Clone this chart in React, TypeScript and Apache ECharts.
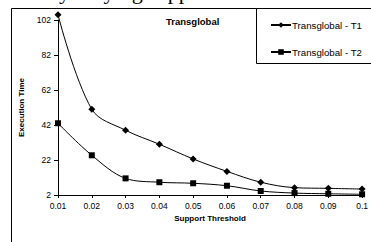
import React, { useEffect, useRef } from "react";
import * as echarts from "echarts";

const thresholds = ["0.01", "0.02", "0.03", "0.04", "0.05", "0.06", "0.07", "0.08", "0.09", "0.1"];
const t1Values = [105, 51, 39, 31, 22.6, 15.5, 9.3, 6.2, 5.8, 5.4];
const t2Values = [43, 24.7, 11.5, 9.3, 8.7, 7.3, 4.3, 3.1, 2.7, 2.4];
const seriesNames = ["Transglobal - T1", "Transglobal - T2"];
const chartTitle = "Transglobal";
const xTitle = "Support Threshold";
const yTitle = "Execution Time";
const aboveText = "by varying support";

export default function App() {
  const ref = useRef<HTMLDivElement>(null);
  useEffect(() => {
    if (!ref.current) return;
    const chart = echarts.init(ref.current, null, { renderer: "svg" });
    const font = "Liberation Sans, Arial, sans-serif";
    chart.setOption({
      animation: false,
      backgroundColor: "#ffffff",
      textStyle: { fontFamily: font, color: "#000" },
      title: {
        text: chartTitle,
        left: 166,
        top: 16,
        padding: 0,
        textStyle: { fontSize: 9.5, fontWeight: "bold", color: "#000", fontFamily: font },
      },
      legend: {
        orient: "vertical",
        left: 270,
        top: 20,
        padding: 0,
        itemGap: 17,
        itemWidth: 20,
        itemHeight: 7,
        textStyle: { fontSize: 9.7, color: "#000", fontFamily: font, padding: [0, 0, 0, -4] },
        data: seriesNames,
      },
      graphic: [
        {
          type: "rect",
          shape: { x: 11.5, y: 8.5, width: 400, height: 300 },
          style: { fill: "none", stroke: "#000", lineWidth: 1 },
          z: -1,
        },
        {
          type: "rect",
          shape: { x: 256.5, y: 8.5, width: 200, height: 55 },
          style: { fill: "#fff", stroke: "#000", lineWidth: 1 },
          z: 0,
        },
        {
          type: "text",
          x: 48,
          y: 2,
          style: {
            text: aboveText,
            font: "22px 'Liberation Serif', 'Times New Roman', serif",
            fill: "#000",
            verticalAlign: "bottom",
          },
        },
      ],
      grid: { left: 58, right: 6, top: 20, bottom: 47 },
      xAxis: {
        type: "category",
        data: thresholds,
        boundaryGap: false,
        name: xTitle,
        nameLocation: "middle",
        nameGap: 14,
        nameTextStyle: { fontSize: 8, fontWeight: "bold", color: "#000", fontFamily: font },
        axisLine: { lineStyle: { color: "#000", width: 1 } },
        axisTick: { show: true, length: 3, alignWithLabel: true, lineStyle: { color: "#000" } },
        axisLabel: { fontSize: 8.5, color: "#000", margin: 6, fontFamily: font },
        splitLine: { show: false },
      },
      yAxis: {
        type: "value",
        min: 2,
        max: 102,
        interval: 20,
        name: yTitle,
        nameLocation: "middle",
        nameGap: 26,
        nameTextStyle: { fontSize: 8, fontWeight: "bold", color: "#000", fontFamily: font },
        axisLine: { show: true, lineStyle: { color: "#000", width: 1 } },
        axisTick: { show: true, length: 4, lineStyle: { color: "#000" } },
        axisLabel: { fontSize: 8.5, color: "#000", margin: 7, fontFamily: font },
        splitLine: { show: false },
      },
      series: [
        {
          name: seriesNames[0],
          type: "line",
          data: t1Values,
          smooth: 0.35,
          clip: false,
          symbol: "diamond",
          symbolSize: 7,
          lineStyle: { color: "#000", width: 1 },
          itemStyle: { color: "#000" },
        },
        {
          name: seriesNames[1],
          type: "line",
          data: t2Values,
          smooth: 0.35,
          clip: false,
          symbol: "rect",
          symbolSize: 6,
          lineStyle: { color: "#000", width: 1 },
          itemStyle: { color: "#000" },
        },
      ],
    });
    return () => chart.dispose();
  }, []);
  return (
    <div
      ref={ref}
      style={{ position: "fixed", left: 0, top: 0, width: 371, height: 242, background: "#fff" }}
    />
  );
}
